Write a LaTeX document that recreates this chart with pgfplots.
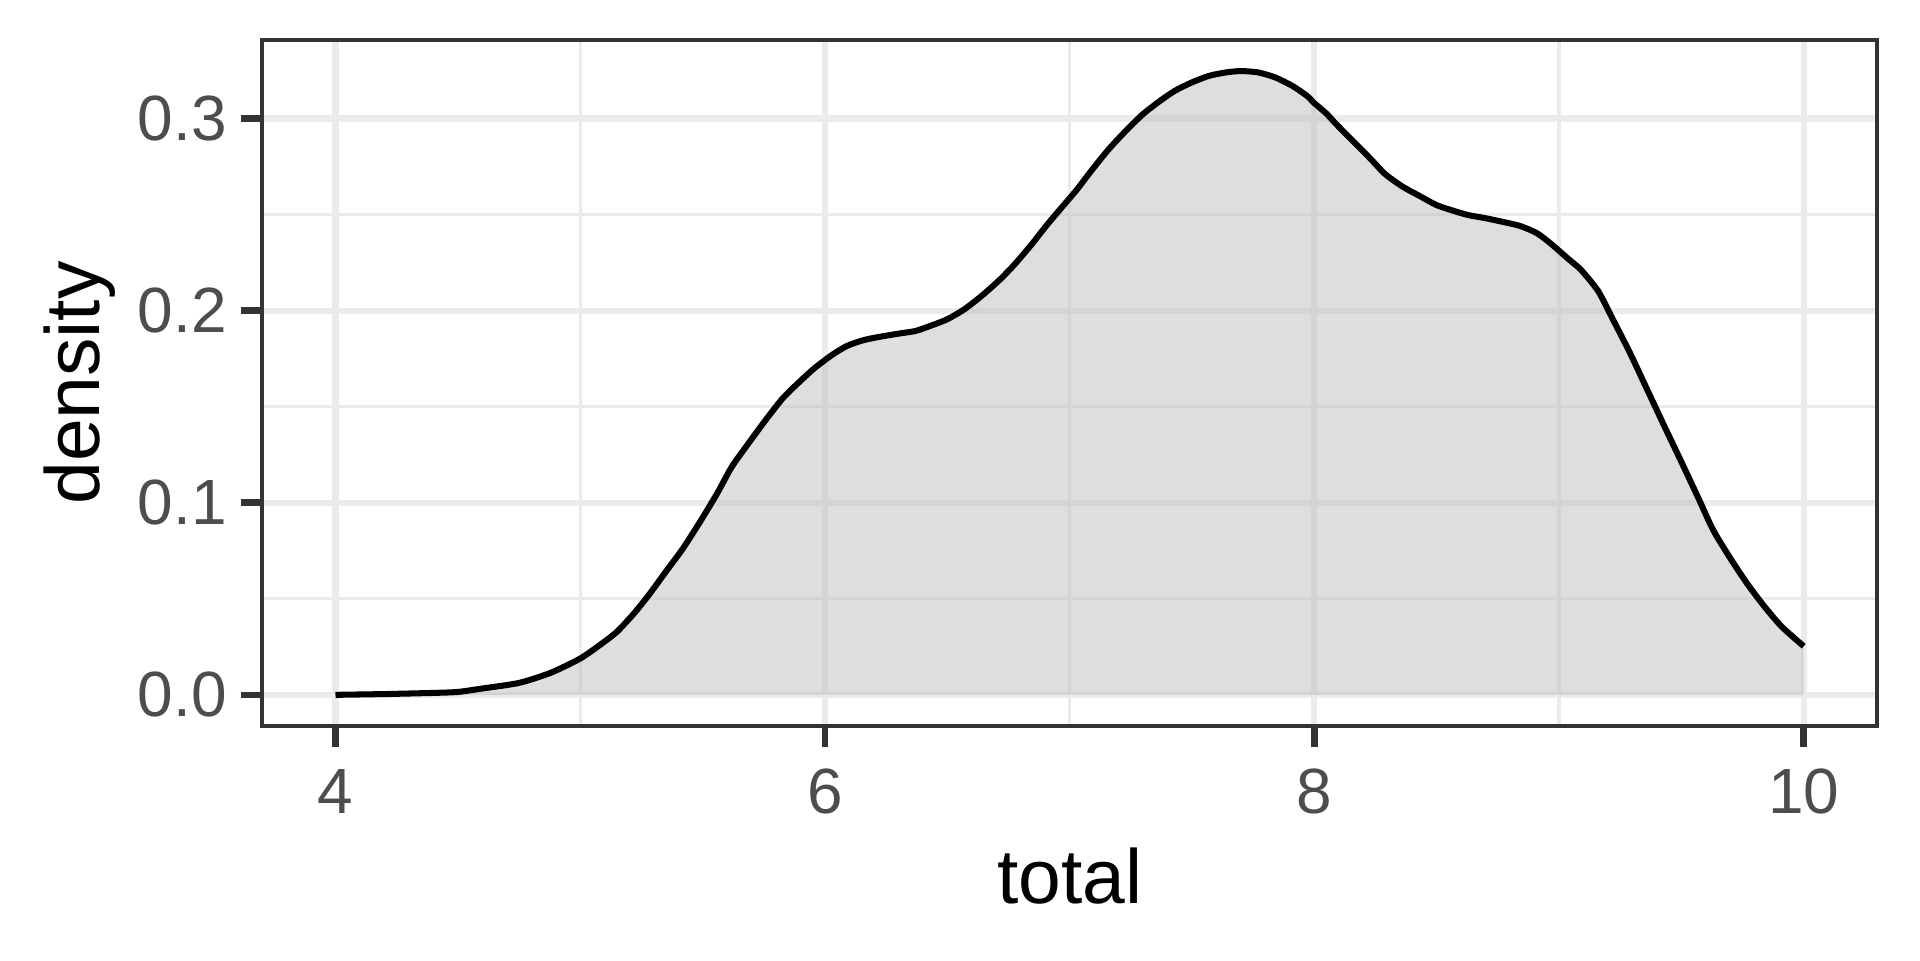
\documentclass[border=0pt]{standalone}
\usepackage{fontspec}
\setmainfont{Liberation Sans}
\usepackage{pgfplots}
\usepackage{pgfplotstable}
\pgfplotsset{compat=1.18}

\definecolor{gridc}{HTML}{EBEBEB}
\definecolor{borderc}{HTML}{333333}
\definecolor{ticklab}{HTML}{4D4D4D}
\definecolor{densfill}{HTML}{BEBEBE}

% density estimate of total
\pgfplotstableread{
x y
4.00 0.0000
4.20 0.0004
4.40 0.0010
4.50 0.0015
4.60 0.0033
4.75 0.0062
4.88 0.0115
5.00 0.0189
5.08 0.0259
5.15 0.0328
5.22 0.0424
5.28 0.0519
5.35 0.0641
5.42 0.0762
5.49 0.0901
5.56 0.1049
5.62 0.1188
5.69 0.1313
5.76 0.1434
5.83 0.1547
5.90 0.1634
5.96 0.1703
6.03 0.1770
6.09 0.1816
6.16 0.1847
6.23 0.1865
6.30 0.1880
6.37 0.1894
6.43 0.1920
6.50 0.1955
6.57 0.2007
6.64 0.2076
6.71 0.2155
6.77 0.2233
6.84 0.2337
6.91 0.2450
6.98 0.2555
7.03 0.2630
7.09 0.2730
7.16 0.2840
7.23 0.2936
7.30 0.3023
7.37 0.3092
7.43 0.3144
7.50 0.3188
7.57 0.3222
7.64 0.3240
7.70 0.3247
7.77 0.3240
7.84 0.3214
7.91 0.3170
7.97 0.3118
8.00 0.3080
8.05 0.3025
8.09 0.2970
8.16 0.2880
8.23 0.2790
8.29 0.2710
8.36 0.2646
8.43 0.2597
8.50 0.2549
8.57 0.2519
8.63 0.2497
8.70 0.2481
8.77 0.2462
8.84 0.2441
8.91 0.2403
8.97 0.2345
9.04 0.2267
9.09 0.2212
9.16 0.2102
9.22 0.1955
9.29 0.1780
9.36 0.1590
9.43 0.1400
9.50 0.1213
9.57 0.1023
9.63 0.0858
9.70 0.0711
9.77 0.0577
9.84 0.0459
9.91 0.0355
10.00 0.0253
}\dens

\begin{document}
\begin{tikzpicture}
\begin{axis}[
  scale only axis,
  width=387.6bp, height=164.64bp,
  xmin=3.7, xmax=10.3,
  ymin=-0.01623, ymax=0.34086,
  xtick={4,6,8,10},
  ytick={0,0.1,0.2,0.3},
  minor xtick={5,7,9},
  minor ytick={0.05,0.15,0.25},
  grid=both,
  major grid style={draw=gridc, line width=1.45bp},
  minor grid style={draw=gridc, line width=0.75bp},
  axis line style={draw=borderc, line width=0.9bp},
  tick align=outside,
  tick pos=left,
  major tick length=5bp,
  minor tick length=0pt,
  major tick style={draw=borderc, line width=1.6bp},
  /pgf/number format/assume math mode=true,
  yticklabel style={/pgf/number format/fixed, /pgf/number format/fixed zerofill, /pgf/number format/precision=1},
  ticklabel style={font=\fontsize{15.4}{17}\selectfont, text=ticklab, inner sep=0pt},
  xticklabel style={anchor=center, yshift=-10.8bp},
  yticklabel style={anchor=east, xshift=-3.3bp},
  xlabel={total},
  ylabel={density},
  label style={font=\fontsize{18.5}{20}\selectfont, text=black, inner sep=0pt},
  xlabel style={at={(axis description cs:0.5,0)}, anchor=base, yshift=-42.7bp},
  ylabel style={at={(axis description cs:0,0.5)}, anchor=base, yshift=38.9bp},
]
\addplot[draw=none, fill=densfill, fill opacity=0.5, smooth, tension=0.4] table[x=x, y=y] {\dens} \closedcycle;
\addplot[black, line width=1.45bp, smooth, tension=0.4] table[x=x, y=y] {\dens};
\coordinate (ll) at (rel axis cs:0,0);
\coordinate (ur) at (rel axis cs:1,1);
\end{axis}
\path ([shift={(-62.9bp,-56.2bp)}]ll) rectangle ([shift={(10.3bp,9.6bp)}]ur);
\end{tikzpicture}
\end{document}
